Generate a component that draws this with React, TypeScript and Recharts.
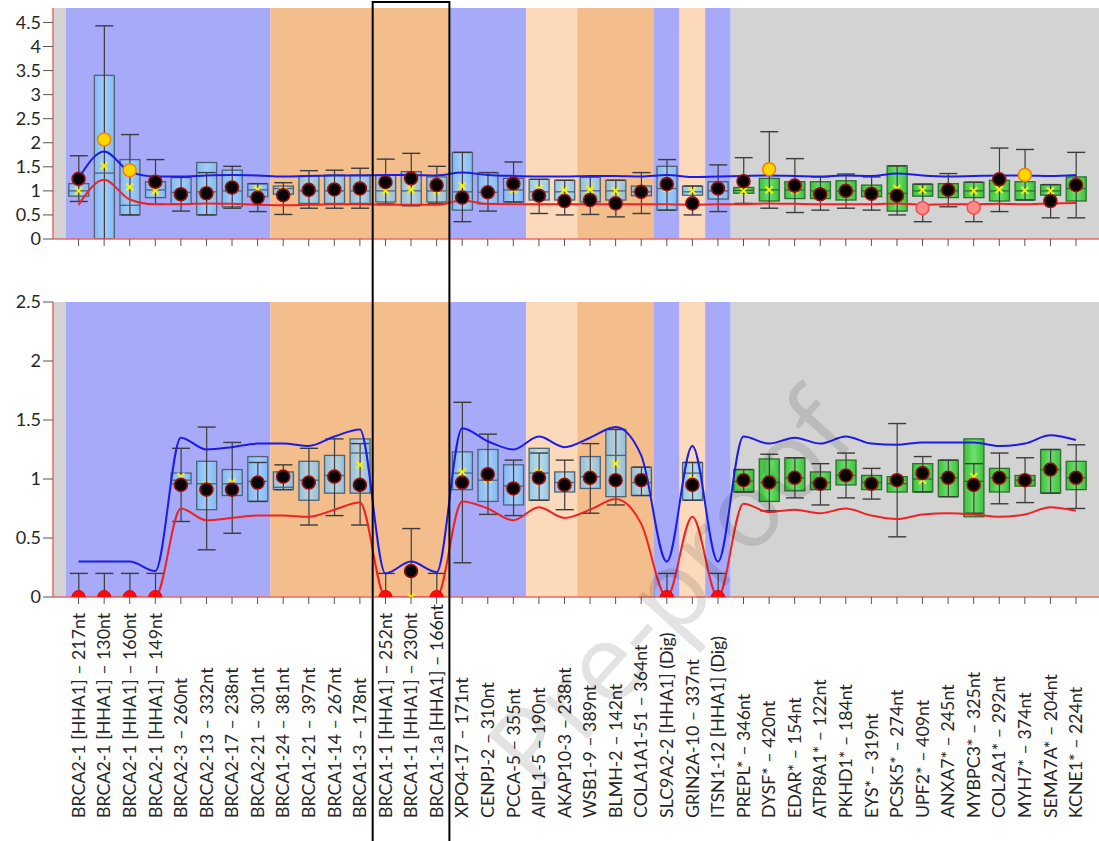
import { Bar, ComposedChart, Line, ReferenceArea, Scatter, XAxis, YAxis } from "recharts"

const labels = [
  "BRCA2-1 [HHA1] – 217nt",
  "BRCA2-1 [HHA1] – 130nt",
  "BRCA2-1 [HHA1] – 160nt",
  "BRCA2-1 [HHA1] – 149nt",
  "BRCA2-3 – 260nt",
  "BRCA2-13 – 332nt",
  "BRCA2-17 – 238nt",
  "BRCA2-21 – 301nt",
  "BRCA1-24 – 381nt",
  "BRCA1-21 – 397nt",
  "BRCA1-14 – 267nt",
  "BRCA1-3 – 178nt",
  "BRCA1-1 [HHA1] – 252nt",
  "BRCA1-1 [HHA1] – 230nt",
  "BRCA1-1a [HHA1] – 166nt",
  "XPO4-17 – 171nt",
  "CENPJ-2 – 310nt",
  "PCCA-5 – 355nt",
  "AIPL1-5 – 190nt",
  "AKAP10-3 – 238nt",
  "WSB1-9 – 389nt",
  "BLMH-2 – 142nt",
  "COLA1A1-51 – 364nt",
  "SLC9A2-2 [HHA1] (Dig)",
  "GRIN2A-10 – 337nt",
  "ITSN1-12 [HHA1] (Dig)",
  "PREPL* – 346nt",
  "DYSF* – 420nt",
  "EDAR* – 154nt",
  "ATP8A1* – 122nt",
  "PKHD1* – 184nt",
  "EYS* – 319nt",
  "PCSK5* – 274nt",
  "UPF2* – 409nt",
  "ANXA7* – 245nt",
  "MYBPC3* – 325nt",
  "COL2A1* – 292nt",
  "MYH7* – 374nt",
  "SEMA7A* – 204nt",
  "KCNE1* – 224nt",
]

// b = BRCA2/blue group, o = BRCA1/orange, p = light peach, g = grey
const groups = [
  "b", "b", "b", "b", "b", "b", "b", "b",
  "o", "o", "o", "o", "o", "o", "o",
  "b", "b", "b", "p", "p", "o", "o", "o", "b", "p", "b",
  "g", "g", "g", "g", "g", "g", "g", "g", "g", "g", "g", "g", "g", "g",
]

// upper panel
const topWhiskerLow = [0.78, 0, 0.5, 0.72, 0.58, 0.5, 0.64, 0.57, 0.51, 0.64, 0.64, 0.64, 0.73, 0.69, 0.74, 0.36, 0.58, 0.77, 0.53, 0.5, 0.51, 0.46, 0.53, 0.6, 0.5, 0.57, 0.74, 0.64, 0.55, 0.6, 0.64, 0.6, 0.5, 0.36, 0.67, 0.36, 0.57, 0.81, 0.44, 0.44]
const topQ1 = [0.89, 0, 0.5, 0.86, 0.73, 0.5, 0.67, 0.88, 0.93, 0.74, 0.74, 0.74, 0.77, 0.7, 0.77, 0.6, 0.73, 0.77, 0.81, 0.81, 0.77, 0.81, 0.9, 0.6, 0.91, 0.83, 0.95, 0.79, 0.84, 0.84, 0.81, 0.88, 0.58, 0.89, 0.86, 0.86, 0.79, 0.81, 0.91, 0.79]
const topMedian = [1.0, 1.37, 0.7, 1.02, 0.97, 0.98, 1.0, 1.02, 1.05, 1.0, 1.0, 1.0, 1.0, 1.0, 1.0, 0.98, 0.97, 1.02, 0.98, 0.98, 1.0, 1.0, 0.98, 1.05, 0.98, 1.0, 1.01, 1.02, 1.02, 1.0, 1.0, 1.0, 0.95, 1.0, 1.0, 1.0, 1.0, 1.0, 1.0, 1.05]
const topQ3 = [1.15, 3.4, 1.65, 1.19, 1.28, 1.59, 1.43, 1.15, 1.1, 1.31, 1.33, 1.33, 1.33, 1.4, 1.29, 1.8, 1.38, 1.26, 1.24, 1.22, 1.29, 1.22, 1.1, 1.51, 1.1, 1.19, 1.07, 1.26, 1.19, 1.19, 1.21, 1.12, 1.52, 1.14, 1.15, 1.18, 1.22, 1.19, 1.13, 1.29]
const topWhiskerHigh = [1.73, 4.43, 2.17, 1.65, 1.28, 1.38, 1.51, 1.15, 1.17, 1.42, 1.43, 1.47, 1.66, 1.78, 1.51, 1.8, 1.38, 1.6, 1.24, 1.22, 1.29, 1.22, 1.38, 1.65, 1.1, 1.54, 1.69, 2.23, 1.67, 1.29, 1.35, 1.29, 1.52, 1.14, 1.36, 1.18, 1.89, 1.86, 1.13, 1.8]
const topMean = [1.0, 1.52, 1.08, 1.0, 1.0, 1.02, 1.04, 1.03, 1.0, 1.0, 1.0, 1.0, 1.0, 1.03, 1.0, 1.1, 1.0, 1.02, 1.05, 1.02, 1.03, 1.0, 0.99, 1.05, 1.0, 1.0, 1.0, 1.02, 1.02, 1.0, 1.0, 1.0, 1.05, 1.02, 1.0, 1.0, 1.03, 1.01, 1.0, 1.05]
const topValue = [1.25, 2.07, 1.43, 1.19, 0.93, 0.95, 1.07, 0.86, 0.91, 1.02, 1.03, 1.05, 1.18, 1.26, 1.12, 0.86, 0.97, 1.15, 0.9, 0.79, 0.81, 0.74, 0.98, 1.14, 0.74, 1.05, 1.2, 1.45, 1.11, 0.93, 1.0, 0.94, 0.9, 0.64, 1.02, 0.65, 1.24, 1.33, 0.79, 1.12]
const topKind = [
  "n", "hi", "hi", "n", "n", "n", "n", "n", "n", "n", "n", "n", "n", "n", "n", "n", "n", "n", "n", "n",
  "n", "n", "n", "n", "n", "n", "n", "hi", "n", "n", "n", "n", "n", "lo", "n", "lo", "n", "hi", "n", "n",
]
const topUpper = [1.26, 1.82, 1.4, 1.3, 1.3, 1.32, 1.33, 1.32, 1.3, 1.31, 1.32, 1.32, 1.33, 1.33, 1.32, 1.38, 1.33, 1.31, 1.3, 1.3, 1.31, 1.31, 1.3, 1.33, 1.29, 1.3, 1.31, 1.32, 1.31, 1.3, 1.32, 1.31, 1.36, 1.32, 1.3, 1.31, 1.32, 1.32, 1.31, 1.33]
const topLower = [0.71, 1.23, 0.82, 0.72, 0.72, 0.74, 0.73, 0.71, 0.7, 0.71, 0.72, 0.72, 0.71, 0.71, 0.71, 0.8, 0.73, 0.72, 0.72, 0.72, 0.72, 0.72, 0.72, 0.72, 0.71, 0.72, 0.72, 0.74, 0.73, 0.72, 0.72, 0.72, 0.74, 0.71, 0.72, 0.72, 0.73, 0.72, 0.74, 0.75]

// lower panel
const botWhiskerLow = [0, 0, 0, 0, 0.64, 0.4, 0.54, 0.81, 0.91, 0.61, 0.69, 0.61, 0, 0, 0, 0.29, 0.7, 0.69, 0.82, 0.74, 0.71, 0.78, 0.86, 0, 0.82, 0, 0.89, 0.73, 0.84, 0.78, 0.84, 0.83, 0.51, 0.89, 0.85, 0.71, 0.79, 0.8, 0.88, 0.75]
const botQ1 = [0, 0, 0, 0, 0.96, 0.74, 0.86, 0.81, 0.91, 0.82, 0.88, 0.88, 0, 0, 0, 0.91, 0.81, 0.78, 0.82, 0.89, 0.92, 0.85, 0.86, 0, 0.82, 0, 0.89, 0.81, 0.9, 0.91, 0.95, 0.91, 0.89, 0.89, 0.85, 0.68, 0.89, 0.94, 0.88, 0.91]
const botMedian = [0, 0, 0, 0, 0.99, 0.96, 0.96, 0.98, 0.93, 0.99, 1.03, 1.22, 0, 0, 0, 1.05, 0.99, 0.94, 1.05, 0.97, 1.02, 1.2, 0.97, 0, 1.05, 0, 0.98, 0.97, 1.01, 0.97, 1.03, 0.97, 0.96, 1.0, 1.01, 0.98, 1.01, 0.99, 1.08, 1.01]
const botQ3 = [0, 0, 0, 0, 1.05, 1.15, 1.08, 1.19, 1.06, 1.15, 1.2, 1.34, 0, 0, 0, 1.23, 1.25, 1.12, 1.26, 1.06, 1.19, 1.42, 1.1, 0, 1.14, 0, 1.08, 1.17, 1.18, 1.06, 1.16, 1.03, 1.02, 1.13, 1.16, 1.34, 1.09, 1.03, 1.25, 1.15]
const botWhiskerHigh = [0.2, 0.2, 0.2, 0.2, 1.26, 1.44, 1.31, 1.14, 1.12, 1.26, 1.34, 1.3, 0.2, 0.58, 0.2, 1.65, 1.38, 1.16, 1.22, 1.16, 1.3, 1.42, 1.1, 0.2, 1.14, 0.2, 1.08, 1.21, 1.18, 1.13, 1.22, 1.09, 1.47, 1.19, 1.16, 1.13, 1.22, 1.18, 1.25, 1.29]
const botMean = [0, 0, 0, 0, 1.02, 0.95, 0.97, 1.0, 1.0, 1.0, 1.02, 1.12, 0, 0, 0, 1.06, 1.0, 0.95, 1.06, 0.98, 1.04, 1.13, 0.98, 0, 1.0, 0, 0.99, 0.98, 1.02, 0.98, 1.04, 0.97, 0.98, 0.99, 1.0, 1.02, 1.0, 0.99, 1.07, 1.01]
const botValue = [0, 0, 0, 0, 0.95, 0.91, 0.91, 0.97, 1.02, 0.97, 1.02, 0.95, 0, 0.22, 0, 0.97, 1.04, 0.92, 1.01, 0.95, 1.01, 0.99, 0.99, 0, 0.95, 0, 0.99, 0.97, 1.01, 0.96, 1.03, 0.96, 0.99, 1.05, 1.01, 0.95, 1.01, 0.99, 1.08, 1.01]
const botKind = [
  "z", "z", "z", "z", "n", "n", "n", "n", "n", "n", "n", "n", "z", "n", "z", "n", "n", "n", "n", "n",
  "n", "n", "n", "z", "n", "z", "n", "n", "n", "n", "n", "n", "n", "n", "n", "n", "n", "n", "n", "n",
]
const botUpper = [0.3, 0.3, 0.3, 0.22, 1.35, 1.25, 1.27, 1.3, 1.3, 1.28, 1.36, 1.42, 0.2, 0.3, 0.21, 1.43, 1.32, 1.25, 1.36, 1.27, 1.35, 1.44, 1.2, 0.3, 1.28, 0.3, 1.36, 1.3, 1.35, 1.3, 1.36, 1.3, 1.29, 1.31, 1.31, 1.31, 1.28, 1.3, 1.37, 1.33]
const botLower = [0, 0, 0, 0, 0.75, 0.65, 0.67, 0.69, 0.69, 0.68, 0.74, 0.8, 0, 0, 0, 0.81, 0.75, 0.65, 0.76, 0.67, 0.74, 0.83, 0.62, 0, 0.68, 0, 0.79, 0.72, 0.74, 0.71, 0.75, 0.69, 0.66, 0.7, 0.71, 0.7, 0.68, 0.7, 0.76, 0.73]

const TOP_TICKS = [0, 0.5, 1, 1.5, 2, 2.5, 3, 3.5, 4, 4.5]
const BOT_TICKS = [0, 0.5, 1, 1.5, 2, 2.5]
const X_TICKS = labels.map((_, i) => i)

const W = 1099
const LEFT = 53
const X_MIN = -1
const X_MAX = 39.9

const bandFill: Record<string, string> = { b: "#a7a9f9", o: "#f4bd8c", p: "#fbd9ba", g: "#d3d3d3" }
const stripFill: Record<string, string> = { b: "#a6a7f8", o: "#fdc692", p: "#fde0c7", g: "#d4d4d4" }

const runs: { from: number; to: number; g: string }[] = []
groups.forEach((g, i) => {
  const last = runs[runs.length - 1]
  if (last && last.g === g) last.to = i + 0.5
  else runs.push({ from: i - 0.5, to: i + 0.5, g })
})

function buildRows(
  wl: number[], q1: number[], md: number[], q3: number[], wh: number[],
  mean: number[], val: number[], kind: string[], up: number[], lo: number[],
) {
  return labels.map((name, i) => ({
    i,
    name,
    box: [Math.min(wl[i], q1[i]), Math.max(wh[i], q3[i])],
    wl: wl[i],
    q1: q1[i],
    md: md[i],
    q3: q3[i],
    wh: wh[i],
    mean: mean[i],
    val: val[i],
    kind: kind[i],
    up: up[i],
    lo: lo[i],
    green: name.includes("*"),
  }))
}

const topRows = buildRows(topWhiskerLow, topQ1, topMedian, topQ3, topWhiskerHigh, topMean, topValue, topKind, topUpper, topLower)
const botRows = buildRows(botWhiskerLow, botQ1, botMedian, botQ3, botWhiskerHigh, botMean, botValue, botKind, botUpper, botLower)

const sx = (v: number) => LEFT + ((v - X_MIN) / (X_MAX - X_MIN)) * (W - LEFT)

function BoxShape(props: any) {
  const { x, y, width, height, payload } = props
  if (!payload || height == null) return null
  const [lo, hi] = payload.box
  const top = Math.min(y, y + height)
  const k = Math.abs(height) / (hi - lo)
  const py = (v: number) => top + (hi - v) * k
  const cx = x + width / 2
  const edge = payload.green ? "#2f6e2f" : "#4f6272"
  const fill = payload.green ? "url(#greenBox)" : "url(#blueBox)"
  const cap = 9
  const hasBox = payload.q3 > payload.q1
  return (
    <g>
      {hasBox && (
        <rect x={x} y={py(payload.q3)} width={width} height={py(payload.q1) - py(payload.q3)} fill={fill} stroke={edge} strokeWidth={1.3} />
      )}
      <line x1={cx} x2={cx} y1={py(payload.wl)} y2={py(payload.wh)} stroke="#3c3c3c" strokeWidth={1.2} />
      {hasBox && (
        <line x1={x} x2={x + width} y1={py(payload.md)} y2={py(payload.md)} stroke={edge} strokeWidth={1.3} />
      )}
      <line x1={cx - cap} x2={cx + cap} y1={py(payload.wh)} y2={py(payload.wh)} stroke="#3c3c3c" strokeWidth={1.4} />
      <line x1={cx - cap} x2={cx + cap} y1={py(payload.wl)} y2={py(payload.wl)} stroke="#3c3c3c" strokeWidth={1.4} />
    </g>
  )
}

function MeanMark(props: any) {
  const { cx, cy } = props
  if (cx == null || cy == null) return null
  const s = 3.5
  return (
    <g stroke="#f4f400" strokeWidth={2}>
      <line x1={cx - s} y1={cy - s} x2={cx + s} y2={cy + s} />
      <line x1={cx - s} y1={cy + s} x2={cx + s} y2={cy - s} />
    </g>
  )
}

function DotMark(props: any) {
  const { cx, cy, payload } = props
  if (cx == null || cy == null) return null
  const kind = payload?.kind
  if (kind === "hi") return <circle cx={cx} cy={cy} r={6.5} fill="#ffd500" stroke="#f08000" strokeWidth={1.5} />
  if (kind === "lo") return <circle cx={cx} cy={cy} r={6.5} fill="#ff8b8b" stroke="#f05050" strokeWidth={1.5} />
  if (kind === "z") return <circle cx={cx} cy={cy} r={6.5} fill="#ff0a0a" stroke="#e00000" strokeWidth={1} />
  return <circle cx={cx} cy={cy} r={6.5} fill="#050505" stroke="#9a1010" strokeWidth={1.6} />
}

function LabelTick(props: any) {
  const { x, y, payload } = props
  return (
    <text
      transform={`translate(${x},${y + 212}) rotate(-90)`}
      textAnchor="start"
      dy="0.35em"
      fontSize={17.8}
      fill="#262626"
    >
      {labels[payload.value]}
    </text>
  )
}

const EmptyTick = () => <g />

function Gradients() {
  return (
    <defs>
      <linearGradient id="blueBox" x1="0" y1="0" x2="1" y2="0">
        <stop offset="0%" stopColor="#72c0f2" stopOpacity={0.75} />
        <stop offset="50%" stopColor="#a8dafa" stopOpacity={0.7} />
        <stop offset="100%" stopColor="#72c0f2" stopOpacity={0.75} />
      </linearGradient>
      <linearGradient id="greenBox" x1="0" y1="0" x2="1" y2="0">
        <stop offset="0%" stopColor="#3cc03c" />
        <stop offset="50%" stopColor="#6ee06e" />
        <stop offset="100%" stopColor="#3cc03c" />
      </linearGradient>
    </defs>
  )
}

function Panel({ rows, height, top, yMax, yTicks, xAxisHeight, labelsShown }: any) {
  return (
    <ComposedChart width={W} height={height} data={rows} margin={{ top, right: 0, bottom: 0, left: 0 }}>
      <Gradients />
      <ReferenceArea x1={X_MIN} x2={-0.5} fill={bandFill.g} fillOpacity={1} ifOverflow="hidden" />
      {runs.map((r, k) => (
        <ReferenceArea
          key={`band-${k}`}
          x1={r.from}
          x2={k === runs.length - 1 ? X_MAX : r.to}
          fill={bandFill[r.g]}
          fillOpacity={1}
          ifOverflow="hidden"
        />
      ))}
      <XAxis
        type="number"
        dataKey="i"
        domain={[X_MIN, X_MAX]}
        ticks={X_TICKS}
        interval={0}
        allowDataOverflow
        height={xAxisHeight}
        axisLine={{ stroke: "#e86a6a", strokeWidth: 1.5 }}
        tickLine={{ stroke: "#555" }}
        tickSize={7}
        tickMargin={2}
        tick={labelsShown ? <LabelTick /> : <EmptyTick />}
      />
      <YAxis
        type="number"
        domain={[0, yMax]}
        ticks={yTicks}
        interval={0}
        allowDataOverflow
        width={LEFT}
        axisLine={{ stroke: "#e86a6a", strokeWidth: 1.5 }}
        tickLine={{ stroke: "#555" }}
        tickSize={10}
        tickMargin={2}
        tick={{ fontSize: 18, fill: "#262626" }}
      />
      <Bar dataKey="box" barSize={20} shape={<BoxShape />} isAnimationActive={false} />
      <Line dataKey="up" type="monotone" stroke="#1c1ce6" strokeWidth={2} dot={false} isAnimationActive={false} />
      <Line dataKey="lo" type="monotone" stroke="#ee2222" strokeWidth={2} dot={false} isAnimationActive={false} />
      <Scatter dataKey="mean" shape={<MeanMark />} isAnimationActive={false} />
      <Scatter dataKey="val" shape={<DotMark />} isAnimationActive={false} />
    </ComposedChart>
  )
}

export default function App() {
  return (
    <div
      style={{
        position: "absolute",
        left: 0,
        top: 0,
        width: W,
        height: 841,
        background: "#fff",
        overflow: "hidden",
        fontFamily: "Lato, 'Open Sans', sans-serif",
      }}
    >
      <div style={{ position: "absolute", left: 0, top: 0 }}>
        <Panel rows={topRows} height={250} top={8} yMax={4.8} yTicks={TOP_TICKS} xAxisHeight={11} labelsShown={false} />
      </div>
      <div style={{ position: "absolute", left: 0, top: 290 }}>
        <Panel rows={botRows} height={551} top={12} yMax={2.5} yTicks={BOT_TICKS} xAxisHeight={244} labelsShown />
      </div>
      <div style={{ position: "absolute", left: 0, top: 822 }}>
        <ComposedChart width={W} height={15} data={botRows} margin={{ top: 0, right: 0, bottom: 0, left: LEFT }}>
          <XAxis type="number" dataKey="i" domain={[X_MIN, X_MAX]} hide allowDataOverflow />
          <YAxis type="number" domain={[0, 1]} hide />
          {runs.map((r, k) => (
            <ReferenceArea
              key={`strip-${k}`}
              x1={r.from - 0.1}
              x2={k === runs.length - 1 ? 39.7 : r.to - 0.1}
              y1={0}
              y2={1}
              fill={stripFill[r.g]}
              fillOpacity={1}
            />
          ))}
        </ComposedChart>
      </div>
      <svg
        width={W}
        height={841}
        style={{ position: "absolute", left: 0, top: 0, pointerEvents: "none" }}
      >
        <text
          transform="translate(668,588) rotate(-48)"
          textAnchor="middle"
          dominantBaseline="central"
          fontSize={108}
          fontFamily="'Open Sans', sans-serif"
          fill="rgba(0,0,0,0.11)"
        >
          Pre-proof
        </text>
        <polyline
          points={`${sx(11.5)},845 ${sx(11.5)},2 ${sx(14.5)},2 ${sx(14.5)},845`}
          fill="none"
          stroke="#000"
          strokeWidth={2}
        />
      </svg>
    </div>
  )
}
